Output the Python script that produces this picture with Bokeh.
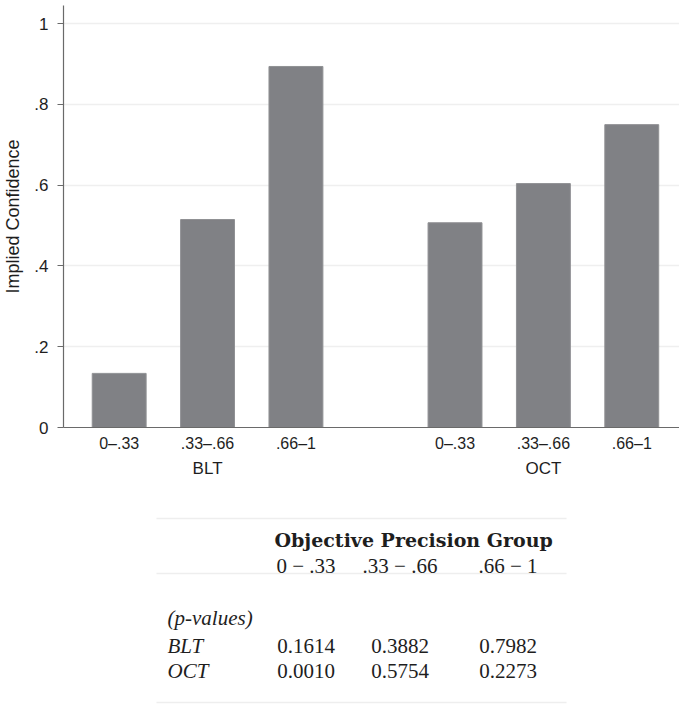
from bokeh.plotting import figure
from bokeh.layouts import column
from bokeh.models import Range1d, FixedTicker, LinearAxis, ColumnDataSource
from bokeh.core.properties import value
from bokeh.embed import file_html
from bokeh.resources import INLINE

# ---- data -------------------------------------------------------------
groups = ["BLT", "OCT"]
bins = ["0–.33", ".33–.66", ".66–1"]
blt_conf = [0.134, 0.515, 0.894]
oct_conf = [0.507, 0.604, 0.750]
y_ticks = [0, 0.2, 0.4, 0.6, 0.8, 1.0]
y_tick_labels = ["0", ".2", ".4", ".6", ".8", "1"]

table_title = "Objective Precision Group"
table_cols = ["0 − .33", ".33 − .66", ".66 − 1"]
pval_label = "(p-values)"
pval_rows = ["BLT", "OCT"]
pval_blt = [0.1614, 0.3882, 0.7982]
pval_oct = [0.0010, 0.5754, 0.2273]

# ---- layout / style ---------------------------------------------------
GROUP_GAP = 0.8
BAR_WIDTH = 0.61
SANS = "Liberation Sans"
SERIF = "Liberation Serif"
INK = "#1e1e1e"
AXIS = "#6a6a6a"
BAR = "#808185"
FRAME_LEFT = 63

# bar positions: three bins per group, groups separated by a gap
xs, tops = [], []
for g, vals in enumerate([blt_conf, oct_conf]):
    for i, v in enumerate(vals):
        xs.append(g * (len(bins) + GROUP_GAP) + i + 0.5)
        tops.append(v)
group_centers = [g * (len(bins) + GROUP_GAP) + len(bins) / 2 for g in range(len(groups))]
src = ColumnDataSource(dict(x=xs, top=tops))

p = figure(width=679, height=490,
           x_range=Range1d(-0.13, 6.84), y_range=Range1d(0, 1.045),
           output_backend="svg", toolbar_location=None,
           min_border_left=FRAME_LEFT, min_border_right=0,
           min_border_top=5, min_border_bottom=63)
p.outline_line_color = None
p.background_fill_color = "white"

p.vbar(x="x", top="top", bottom=0, width=BAR_WIDTH, source=src,
       fill_color=BAR, line_color="#909194", line_width=1)

# grid
p.xgrid.visible = False
p.ygrid.ticker = FixedTicker(ticks=y_ticks)
p.ygrid.grid_line_color = "#efefef"
p.ygrid.grid_line_width = 1.5

# y axis
ya = p.yaxis[0]
ya.ticker = FixedTicker(ticks=y_ticks)
ya.major_label_overrides = dict(zip(y_ticks, y_tick_labels))
ya.axis_label = "Implied Confidence"
ya.axis_label_text_font = SANS
ya.axis_label_text_font_style = "normal"
ya.axis_label_text_font_size = "18px"
ya.axis_label_text_color = INK
ya.axis_label_standoff = 8
ya.major_label_text_font = SANS
ya.major_label_text_font_size = "17px"
ya.major_label_text_color = INK
ya.major_label_standoff = 9
ya.major_tick_out = 6
ya.major_tick_in = 0
ya.minor_tick_out = 0
ya.minor_tick_in = 0
ya.axis_line_color = AXIS
ya.major_tick_line_color = AXIS
ya.axis_line_width = 1.2

# x axis: bin labels
xa = p.xaxis[0]
xa.ticker = FixedTicker(ticks=xs)
xa.major_label_overrides = dict(zip(xs, bins * len(groups)))
xa.major_label_text_font = SANS
xa.major_label_text_font_size = "16px"
xa.major_label_text_color = INK
xa.major_label_standoff = 7
xa.major_tick_out = 0
xa.major_tick_in = 0
xa.minor_tick_out = 0
xa.minor_tick_in = 0
xa.axis_line_color = AXIS
xa.axis_line_width = 1.2

# x axis: group labels
ga = LinearAxis(ticker=FixedTicker(ticks=group_centers),
                major_label_overrides=dict(zip(group_centers, groups)))
ga.major_label_text_font = SANS
ga.major_label_text_font_size = "17px"
ga.major_label_text_color = INK
ga.major_label_standoff = 4
ga.major_tick_out = 0
ga.major_tick_in = 0
ga.minor_tick_out = 0
ga.minor_tick_in = 0
ga.axis_line_color = None
p.add_layout(ga, "below")

# ---- p-value table ----------------------------------------------------
# the column layout aligns this frame with the chart frame above,
# so x runs in page pixels from the chart's left frame edge
t = figure(width=679, height=215,
           x_range=Range1d(FRAME_LEFT, 679), y_range=Range1d(215, 0),
           x_axis_type=None, y_axis_type=None,
           output_backend="svg", toolbar_location=None,
           min_border=0)
t.outline_line_color = None
t.grid.visible = False

RULE_X = (156, 566)
rule_y = [28, 83, 212]
t.segment(x0=[RULE_X[0]] * 3, x1=[RULE_X[1]] * 3, y0=rule_y, y1=rule_y,
          line_color="#eeeeee", line_width=1.5)

col_x = [305.5, 399.5, 507.5]
label_x = 167
t.text(x=[274], y=[49], text=[table_title], text_font=value("DejaVu Serif"),
       text_font_style="bold", text_font_size="19px", text_color=INK,
       text_align="left", text_baseline="alphabetic")
t.text(x=col_x, y=[75] * 3, text=table_cols, text_font=value(SERIF),
       text_font_size="21px", text_color=INK,
       text_align="center", text_baseline="alphabetic")

row_y = [155, 180]
t.text(x=[label_x], y=[127], text=[pval_label], text_font=value(SERIF),
       text_font_style="italic", text_font_size="21px", text_color=INK,
       text_align="left", text_baseline="alphabetic")
t.text(x=[label_x] * 2, y=row_y, text=pval_rows, text_font=value(SERIF),
       text_font_style="italic", text_font_size="21px", text_color=INK,
       text_align="left", text_baseline="alphabetic")
for ry, vals in zip(row_y, [pval_blt, pval_oct]):
    t.text(x=col_x, y=[ry] * 3, text=[f"{v:.4f}" for v in vals],
           text_font=value(SERIF), text_font_size="21px", text_color=INK,
           text_align="center", text_baseline="alphabetic")

layout = column(p, t)
open("out.html", "w").write(file_html(layout, INLINE))
